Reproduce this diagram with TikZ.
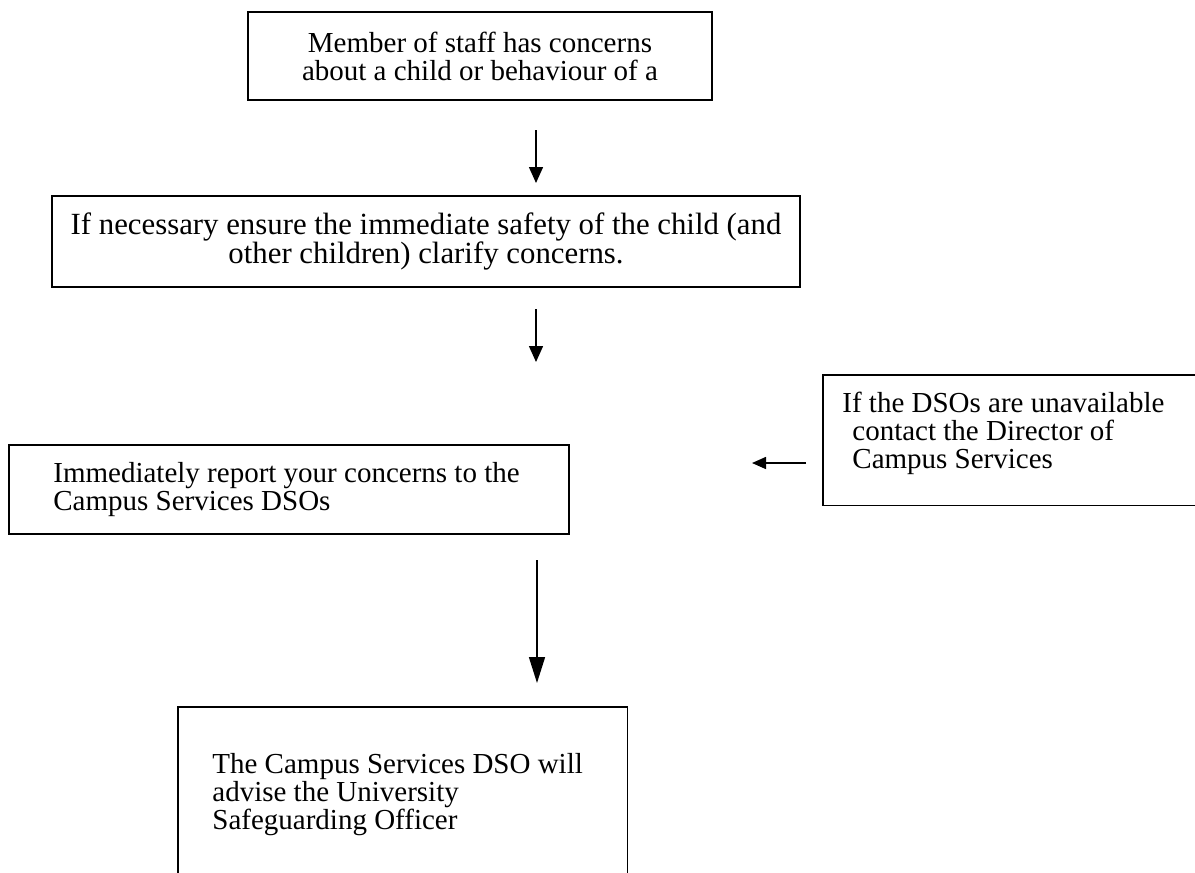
\documentclass[tikz,border=0pt]{standalone}
\usepackage{fontspec}
\setmainfont{Liberation Serif}
\usetikzlibrary{arrows.meta}
\begin{document}
\begin{tikzpicture}[x=0.5pt,y=-0.5pt,
  boxline/.style={line width=0.9pt},
  box/.style={draw,boxline,inner sep=0pt,font=\fontsize{14.5pt}{14pt}\selectfont},
  txt/.style={inner sep=0pt,align=left,font=\fontsize{14.5pt}{14pt}\selectfont},
  arr/.style={line width=0.75pt,-{Triangle[length=8pt,width=7pt]}},
  bigarr/.style={line width=0.75pt,-{Triangle[length=13pt,width=8pt]}},
  smallarr/.style={line width=0.75pt,-{Triangle[length=7pt,width=6pt]}}]
\useasboundingbox (0,0) rectangle (1195,873);

% boxes
\node[box,minimum width=232pt,minimum height=44pt,align=center] (a) at (480,56)
  {Member of staff has concerns\\about a child or behaviour of a};
\node[box,minimum width=374pt,minimum height=45.5pt,align=center,
  font=\fontsize{15.4pt}{14.2pt}\selectfont] (b) at (426,241.5)
  {If necessary ensure the immediate safety of the child (and\\other children) clarify concerns.};
\node[box,minimum width=280pt,minimum height=44.5pt] (c) at (289,489.5) {};
\node[txt,anchor=west] (ct) at (53,490)
  {Immediately report your concerns to the\\Campus Services DSOs};

\node[inner sep=0pt,minimum width=186pt,minimum height=65pt] (d) at (1009,440) {};
\draw[boxline] (d.north east) -- (d.north west) -- (d.south west) -- (d.south east);
\node[txt,anchor=north west] (dt) at (842,392)
  {If the DSOs are unavailable\\\hspace*{5pt}contact the Director of\\\hspace*{5pt}Campus Services};

\node[inner sep=0pt,minimum width=224.5pt,minimum height=83pt] (e) at (402.5,790) {};
\draw[boxline] (e.south west) -- (e.north west) -- (e.north east) -- (e.south east);
\node[txt,anchor=north west] (et) at (212,753)
  {The Campus Services DSO will\\advise the University\\Safeguarding Officer};

% connectors
\coordinate (a1s) at (536,130);
\coordinate (a1e) at (536,183);
\coordinate (a2s) at (536,309);
\coordinate (a2e) at (536,362);
\coordinate (a3s) at (537,560);
\coordinate (a3e) at (537,683);
\coordinate (a4s) at (806,463);
\coordinate (a4e) at (752,463);
\draw[arr] (a1s) -- (a1e);
\draw[arr] (a2s) -- (a2e);
\draw[bigarr] (a3s) -- (a3e);
\draw[smallarr] (a4s) -- (a4e);
\end{tikzpicture}
\end{document}
